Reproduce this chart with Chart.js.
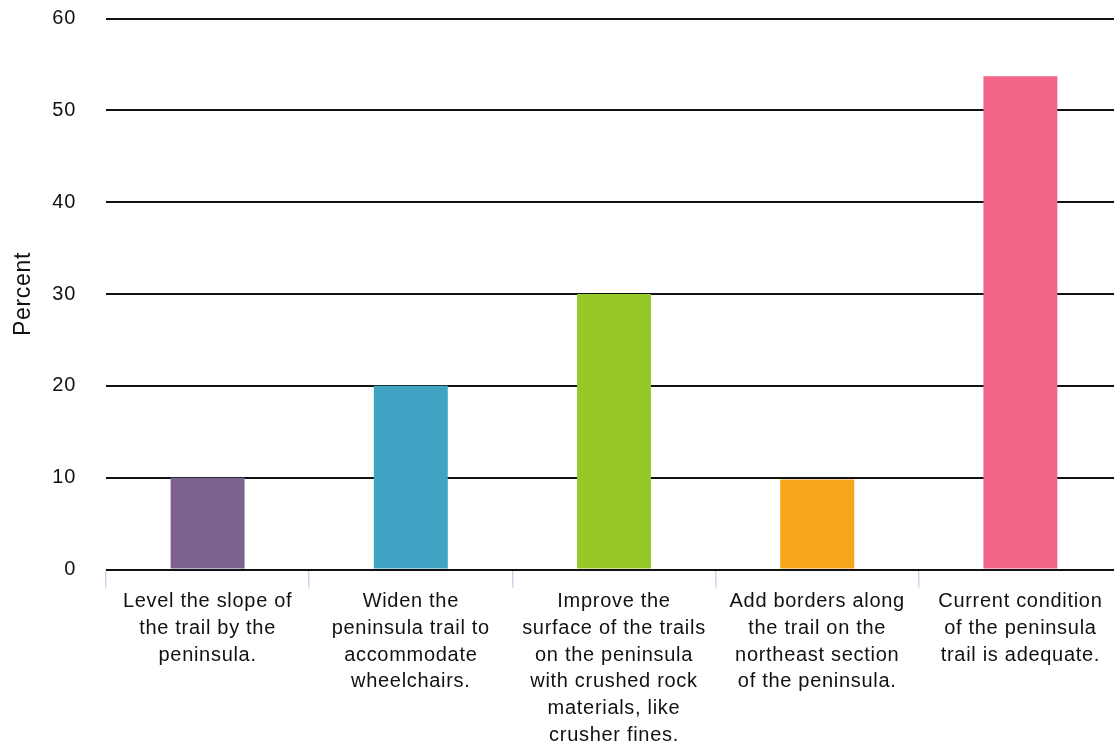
<!DOCTYPE html>
<html>
<head>
<meta charset="utf-8">
<script src="https://cdn.jsdelivr.net/npm/chart.js@4"></script>
<style>
html,body{margin:0;padding:0;background:#fff;overflow:hidden;width:1114px;height:746px;}
canvas{display:block;}
</style>
</head>
<body>
<canvas id="c" width="1124" height="746"></canvas>
<script>
const categories = [
  ["Level the slope of", "the trail by the", "peninsula."],
  ["Widen the", "peninsula trail to", "accommodate", "wheelchairs."],
  ["Improve the", "surface of the trails", "on the peninsula", "with crushed rock", "materials, like", "crusher fines."],
  ["Add borders along", "the trail on the", "northeast section", "of the peninsula."],
  ["Current condition", "of the peninsula", "trail is adequate."]
];
const percentValues = [10, 20, 30, 9.8, 53.7];
const barColors = ["#7e6390", "#40a3c3", "#97c829", "#f5a61a", "#f06588"];
const yTicks = [0, 10, 20, 30, 40, 50, 60];
const yTitle = "Percent";

const spacingPlugin = {
  id: 'spacing',
  beforeUpdate(chart){ chart.ctx.letterSpacing = '0.7px'; },
  beforeLayout(chart){ chart.ctx.letterSpacing = '0.7px'; },
  beforeDraw(chart){ chart.ctx.letterSpacing = '0.7px'; }
};

new Chart(document.getElementById('c'), {
  type: 'bar',
  data: {
    labels: categories,
    datasets: [{
      data: percentValues,
      backgroundColor: barColors,
      borderWidth: 0,
      categoryPercentage: 1,
      barPercentage: 0.364
    }]
  },
  plugins: [spacingPlugin],
  options: {
    responsive: false,
    animation: false,
    devicePixelRatio: 1,
    layout: { padding: { top: 18.5, right: 2, left: 0, bottom: 0 } },
    plugins: { legend: { display: false }, tooltip: { enabled: false } },
    scales: {
      x: {
        grid: {
          offset: true,
          drawOnChartArea: false,
          drawTicks: true,
          tickLength: 18,
          tickColor: '#ccd6eb',
          lineWidth: 1.5
        },
        border: { display: false },
        ticks: {
          color: '#111',
          padding: 1,
          maxRotation: 0,
          autoSkip: false,
          font: { family: 'Liberation Sans, Arial, sans-serif', size: 20, lineHeight: 1.335 }
        },
        afterFit(scale){ scale.height = 176.5; }
      },
      y: {
        min: 0,
        max: 60,
        afterBuildTicks(scale){ scale.ticks = yTicks.map(v => ({ value: v })); },
        grid: {
          color: '#111',
          lineWidth: 2,
          drawTicks: true,
          tickLength: 30,
          tickColor: 'rgba(0,0,0,0)'
        },
        border: { display: false },
        ticks: {
          color: '#111',
          padding: 0,
          font: { family: 'Liberation Sans, Arial, sans-serif', size: 20 }
        },
        title: {
          display: true,
          text: yTitle,
          color: '#111',
          padding: { top: 10, bottom: 0 },
          font: { family: 'Liberation Sans, Arial, sans-serif', size: 23, lineHeight: 1.2 }
        },
        afterFit(scale){ scale.width = 106; }
      }
    }
  }
});
</script>
</body>
</html>
